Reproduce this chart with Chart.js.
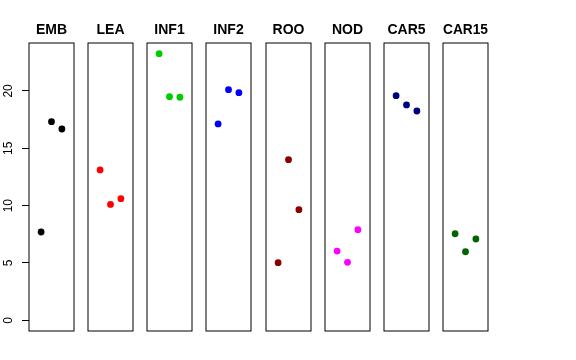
<!DOCTYPE html>
<html>
<head>
<meta charset="utf-8">
<script src="https://cdn.jsdelivr.net/npm/chart.js@4"></script>
<style>
html, body { margin: 0; padding: 0; background: #fff; }
#wrap { position: relative; width: 576px; height: 360px; overflow: hidden; }
#wrap canvas { position: absolute; top: 0; }
</style>
</head>
<body>
<div id="wrap"></div>
<script>
"use strict"

// tissues, one panel each
const tissues = ["EMB", "LEA", "INF1", "INF2", "ROO", "NOD", "CAR5", "CAR15"];
// replicate index inside each panel
const reps = [1, 2, 3];

// values per tissue (3 replicates)
const embVals = [7.70, 17.32, 16.68];
const leaVals = [13.11, 10.11, 10.61];
const inf1Vals = [23.25, 19.50, 19.45];
const inf2Vals = [17.12, 20.11, 19.85];
const rooVals = [5.03, 14.01, 9.65];
const nodVals = [6.04, 5.06, 7.90];
const car5Vals = [19.59, 18.78, 18.25];
const car15Vals = [7.55, 5.98, 7.09];

const allVals = [embVals, leaVals, inf1Vals, inf2Vals, rooVals, nodVals, car5Vals, car15Vals];

// point colours, one per tissue
const tissueColors = ["#000000", "#FF0000", "#00CD00", "#0000FF", "#8B0000", "#FF00FF", "#000080", "#006400"];

// shared y range (R style: 0..max plus 4%)
const yMin = -0.93;
const yMax = 24.18;
// x range around the 3 replicates
const xMin = -0.165;
const xMax = 4.165;

const FONT = "'Liberation Sans', Arial, Helvetica, sans-serif";

// panel layout in page pixels
const firstBoxLeft = 28.7;
const boxPitch = 59.2;
const boxWidth = 45;
const canvasHeight = 340;
const boxBottom = 331;

/*
Draws the rectangle around each panel
*/
const panelBox = {
    id: "panelBox",
    afterDatasetsDraw(chart){
        const a = chart.chartArea;
        const ctx = chart.ctx;
        ctx.save();
        ctx.strokeStyle = "#000";
        ctx.lineWidth = 1;
        ctx.strokeRect(a.left, a.top, a.right - a.left, a.bottom - a.top);
        ctx.restore();
    }
};

const wrap = document.getElementById("wrap");

tissues.forEach(function(name, i){
    const boxLeft = Math.round(firstBoxLeft + i * boxPitch);
    const isFirst = (i === 0);
    // first panel carries the y axis on its left
    const canvasLeft = isFirst ? 0 : boxLeft - 4;
    const padLeft = isFirst ? 0 : 4;
    const canvasWidth = boxLeft + boxWidth + 4 - canvasLeft;

    const canvas = document.createElement("canvas");
    canvas.width = canvasWidth;
    canvas.height = canvasHeight;
    canvas.style.left = canvasLeft + "px";
    canvas.style.width = canvasWidth + "px";
    canvas.style.height = canvasHeight + "px";
    wrap.appendChild(canvas);

    const pts = reps.map(function(r, j){ return {x: r, y: allVals[i][j]}; });

    new Chart(canvas, {
        type: "scatter",
        data: {
            datasets: [{
                data: pts,
                pointRadius: 3.4,
                pointHoverRadius: 3.4,
                pointBackgroundColor: tissueColors[i],
                pointBorderColor: tissueColors[i],
                pointBorderWidth: 0
            }]
        },
        plugins: [panelBox],
        options: {
            responsive: false,
            animation: false,
            events: [],
            layout: {
                padding: {left: padLeft, right: 4, top: 0, bottom: canvasHeight - boxBottom}
            },
            scales: {
                x: {
                    type: "linear",
                    min: xMin,
                    max: xMax,
                    display: false
                },
                y: {
                    type: "linear",
                    min: yMin,
                    max: yMax,
                    display: isFirst,
                    afterFit: function(scale){
                        if(isFirst){
                            // fixed axis width, and no extra room for end labels
                            scale.width = boxLeft;
                            scale.paddingTop = 0;
                            scale.paddingBottom = 0;
                        }
                    },
                    border: {display: false},
                    grid: {
                        drawOnChartArea: false,
                        drawTicks: true,
                        tickLength: 7,
                        color: "#000",
                        lineWidth: 1
                    },
                    ticks: {
                        stepSize: 5,
                        includeBounds: false,
                        minRotation: 90,
                        maxRotation: 90,
                        crossAlign: "center",
                        padding: 7,
                        color: "#000",
                        font: {size: 12, family: FONT}
                    }
                }
            },
            plugins: {
                legend: {display: false},
                tooltip: {enabled: false},
                title: {
                    display: true,
                    text: name,
                    fullSize: false,
                    color: "#000",
                    font: {size: 14, weight: "bold", family: FONT, lineHeight: 1.2},
                    padding: {top: 21.5, bottom: 4.7}
                }
            }
        }
    });
});
</script>
</body>
</html>
